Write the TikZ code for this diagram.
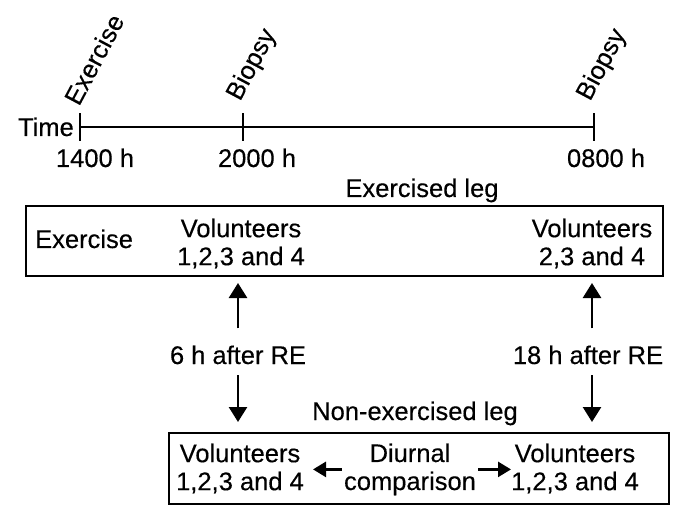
\documentclass[tikz,border=0pt]{standalone}
\usepackage{fontspec}
\setmainfont{Liberation Sans}
\newfontfamily\diagfont[FakeBold=0.3]{Liberation Sans}
\usetikzlibrary{arrows.meta}
\begin{document}
\begin{tikzpicture}[x=1pt,y=-1pt,
  font=\diagfont\fontsize{25.5}{28}\selectfont,
  txt/.style={inner sep=0pt},
  lbl/.style={inner sep=0pt, align=center},
  frame/.style={draw, line width=2pt, inner sep=0pt, anchor=north west},
  bigarrow/.style={line width=2.6pt, -{Triangle[length=15pt,width=18pt]}},
  smallarrow/.style={line width=2.6pt, -{Triangle[length=13pt,width=15pt]}},
  tline/.style={line width=1.8pt},
  rot/.style={inner sep=0pt, rotate=62, anchor=base west}]
\useasboundingbox (0,0) rectangle (685,521);

% timeline
\coordinate (t0) at (80,127);
\coordinate (t1) at (243,127);
\coordinate (t2) at (594,127);
\draw[tline] (t0) -- (t2);
\foreach \c in {t0,t1,t2} \draw[tline] ([yshift=-14pt]\c) -- ([yshift=14pt]\c);

\node[txt, anchor=base east] (time) at (74,136) {Time};
\node[txt, anchor=base] (h1) at (95,167) {1400 h};
\node[txt, anchor=base] (h2) at (257,167) {2000 h};
\node[txt, anchor=base] (h3) at (606,167) {0800 h};
\node[rot] (ex) at (79,107) {Exercise};
\node[rot] (b1) at (240,102) {Biopsy};
\node[rot] (b2) at (590,102) {Biopsy};

% exercised leg box
\node[txt, anchor=base] (exleg) at (422,197) {Exercised leg};
\node[frame, minimum width=637pt, minimum height=70pt] (topbox) at (25,205) {};
\node[txt, anchor=base west] (exin) at (35,248) {Exercise};
\node[lbl] (v1) at (241,243.6) {Volunteers\\1,2,3 and 4};
\node[lbl] (v2) at (592,243.6) {Volunteers\\2,3 and 4};

% middle labels
\node[txt, anchor=base] (l6) at (238,364) {6 h after RE};
\node[txt, anchor=base] (l18) at (588,364) {18 h after RE};

% non-exercised leg box
\node[txt, anchor=base] (nonex) at (415,420) {Non-exercised leg};
\node[frame, minimum width=500pt, minimum height=71pt] (botbox) at (168,432) {};
\node[lbl] (v3) at (240,468.6) {Volunteers\\1,2,3 and 4};
\node[lbl] (diur) at (410,469.4) {Diurnal\\comparison};
\node[lbl] (v4) at (575,468.6) {Volunteers\\1,2,3 and 4};

% connectors
\draw[bigarrow, shorten <=17pt, shorten >=6pt] (l6.north) -- (l6.north |- topbox.south);
\draw[bigarrow, shorten <=11pt, shorten >=10pt] (l6.south) -- (l6.south |- botbox.north);
\draw[bigarrow, shorten <=17pt, shorten >=6pt] (v2 |- l18.north) -- (v2 |- topbox.south);
\draw[bigarrow, shorten <=11pt, shorten >=10pt] (v2 |- l18.south) -- (v2 |- botbox.north);

\draw[smallarrow, shorten <=2pt, shorten >=9pt] (diur.west) -- (diur.west -| v3.east);
\draw[smallarrow, shorten <=2pt, shorten >=0pt] (diur.east) -- (diur.east -| v4.west);
\end{tikzpicture}
\end{document}
